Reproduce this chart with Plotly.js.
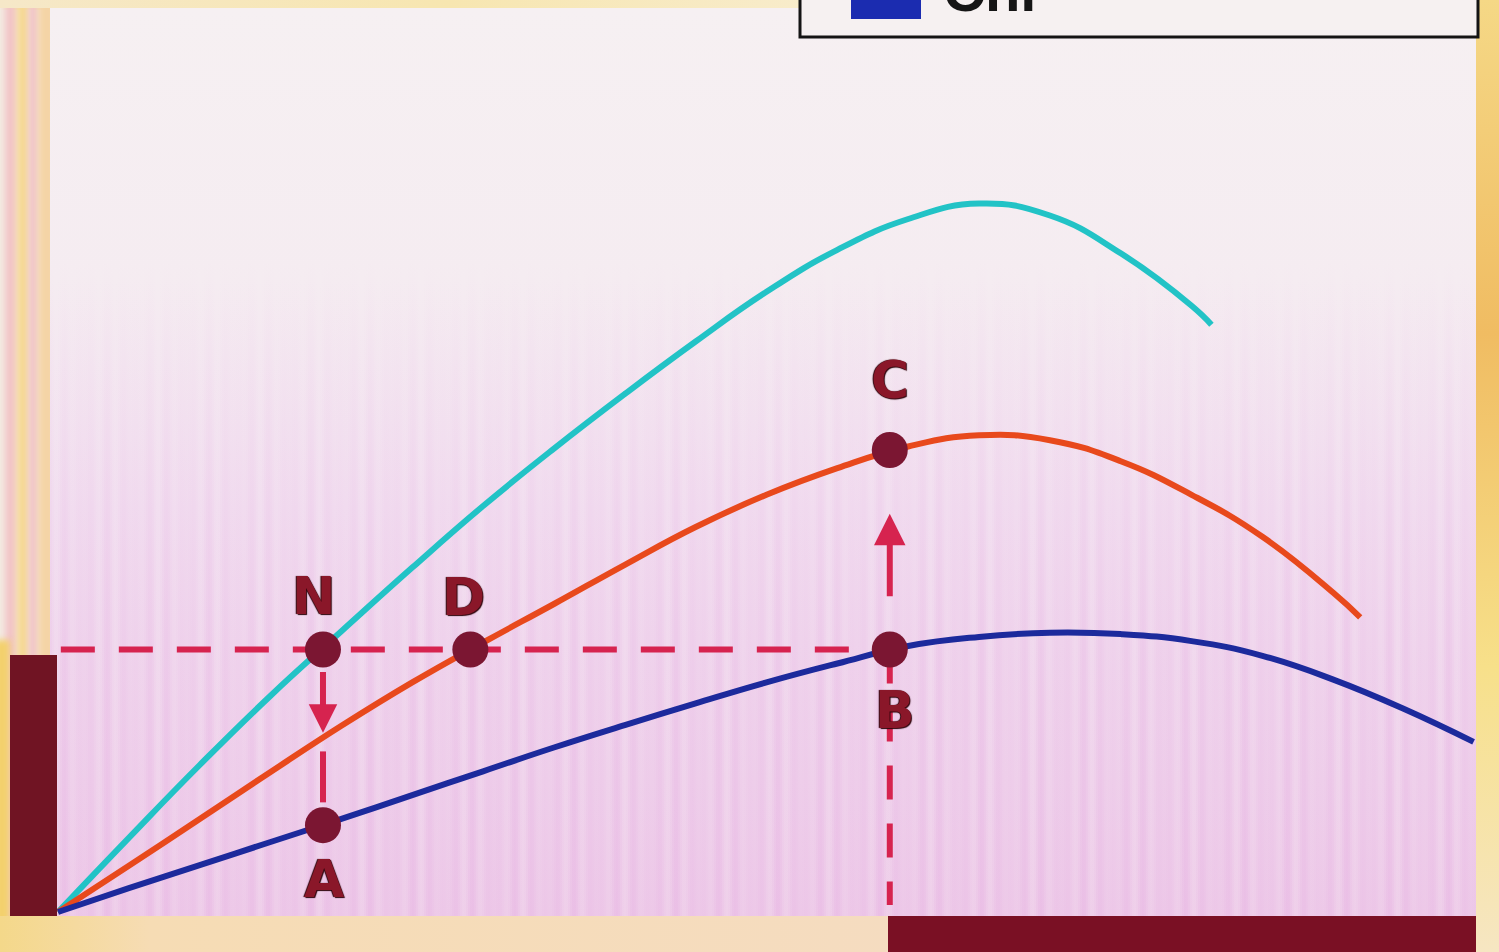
<!DOCTYPE html>
<html>
<head>
<meta charset="utf-8">
<script src="https://cdn.plot.ly/plotly-3.0.1.min.js"></script>
<style>
  html, body { margin: 0; padding: 0; background: #f4ece9; }
  #chart { width: 1499px; height: 952px; }
</style>
</head>
<body>
<div id="chart"></div>
<script>
// ---- curves: light intensity (x) against rate (y) ----
const cyanX   = [0, 5, 10, 15, 20, 25, 30, 35, 40, 45, 50, 55, 60, 65, 70, 75, 80, 81.4];
const cyanY   = [0, 10.6, 21.0, 30.9, 40.1, 49.2, 58.0, 66.2, 74.0, 81.5, 88.6, 94.6, 99.0, 101.2, 99.5, 94.1, 86.6, 83.9];

const orangeX = [0, 5, 10, 15, 20, 25, 30, 35, 40, 45, 50, 55, 60, 65, 70, 75, 80, 85, 90, 91.9];
const orangeY = [0, 6.6, 13.3, 20.0, 26.6, 32.8, 38.5, 44.0, 49.6, 55.0, 59.6, 63.4, 66.5, 68.1, 67.4, 64.4, 59.6, 53.6, 45.6, 42.1];

const blueX   = [0, 5, 10, 15, 20, 25, 30, 35, 40, 45, 50, 55, 60, 65, 70, 75, 80, 85, 90, 95, 99.9];
const blueY   = [0, 3.4, 6.7, 10.0, 13.3, 16.7, 20.1, 23.5, 26.7, 29.8, 32.8, 35.5, 38.0, 39.3, 39.9, 39.7, 38.7, 36.6, 33.2, 29.0, 24.3];

// ---- marked points ----
const pointLabels = ['N', 'D', 'B', 'C', 'A'];
const pointX      = [18.7, 29.1, 58.7, 58.7, 18.7];
const pointY      = [37.5, 37.5, 37.5, 66.0, 12.4];

const legendLabel = 'Chl';

// ---- figure geometry (pixels) ----
const W = 1499, H = 952;
const fx = px => px / W;
const fy = py => 1 - py / H;
const P = {};
pointLabels.forEach((k, i) => { P[k] = { x: pointX[i], y: pointY[i] }; });

// textured backdrop painted once onto a canvas
function backdrop() {
  const c = document.createElement('canvas');
  c.width = W; c.height = H;
  const g = c.getContext('2d');
  g.fillStyle = '#f5ece6';
  g.fillRect(0, 0, W, H);

  // top rim
  const tg = g.createLinearGradient(0, 0, W, 0);
  tg.addColorStop(0, '#f6e8c8'); tg.addColorStop(0.3, '#f7e6b0');
  tg.addColorStop(0.55, '#f8eccc'); tg.addColorStop(1, '#f6ecd8');
  g.fillStyle = tg; g.fillRect(0, 0, W, 10);

  // main panel
  const lg = g.createLinearGradient(0, 8, 0, 916);
  lg.addColorStop(0, '#f6f0f2');
  lg.addColorStop(0.3, '#f5ecf1');
  lg.addColorStop(0.55, '#f2dff0');
  lg.addColorStop(1, '#efd0ea');
  g.fillStyle = lg;
  g.fillRect(50, 8, 1426, 908);

  // vertical pink streaks, stronger toward the bottom
  for (let x = 50; x < 1476; x += 2) {
    const a = 0.5 + 0.5 * Math.sin(x * 0.37) * Math.sin(x * 0.061 + 1.3);
    const sg = g.createLinearGradient(0, 260, 0, 916);
    sg.addColorStop(0, 'rgba(226,160,222,0)');
    sg.addColorStop(0.6, 'rgba(226,160,222,' + (0.28 * a).toFixed(3) + ')');
    sg.addColorStop(1, 'rgba(226,160,222,' + (0.36 * a).toFixed(3) + ')');
    g.fillStyle = sg;
    g.fillRect(x, 260, 2, 656);
  }

  // left rim: soft pink and yellow bands
  g.save();
  g.beginPath(); g.rect(0, 8, 50, H - 8); g.clip();
  g.filter = 'blur(3px)';
  const bands = [[-6, 5, '#f4ebe2'], [5, 17, '#f1c4c6'], [17, 29, '#f6d892'], [29, 38, '#f0c2c6'], [38, 56, '#f4d4a6']];
  bands.forEach(b => { g.fillStyle = b[2]; g.fillRect(b[0], 0, b[1] - b[0], H + 10); });
  g.fillStyle = '#f3d06c'; g.fillRect(-6, 640, 16, H);
  g.restore();

  // right rim
  const rg = g.createLinearGradient(0, 0, 0, H);
  rg.addColorStop(0, '#f5d886'); rg.addColorStop(0.35, '#f0bc62');
  rg.addColorStop(0.7, '#f7e08a'); rg.addColorStop(1, '#f6e6c2');
  g.fillStyle = rg; g.fillRect(1476, 0, W - 1476, H);

  // bottom rim
  const bg = g.createLinearGradient(0, 0, W, 0);
  bg.addColorStop(0, '#f4d88a'); bg.addColorStop(0.1, '#f6dcb4'); bg.addColorStop(0.6, '#f5dcc0');
  g.fillStyle = bg; g.fillRect(0, 916, 890, H - 916);
  return c.toDataURL('image/png');
}

const lineW = 6;
const curveLine = color => ({ color: color, width: lineW, shape: 'spline', smoothing: 1.3 });
const traces = [
  { x: cyanX, y: cyanY, mode: 'lines', line: curveLine('#22c3c6'), hoverinfo: 'skip' },
  { x: orangeX, y: orangeY, mode: 'lines', line: curveLine('#e8491c'), hoverinfo: 'skip' },
  { x: blueX, y: blueY, mode: 'lines', line: curveLine('#1c2a9c'), hoverinfo: 'skip' },
  { x: pointX, y: pointY, mode: 'markers', marker: { color: '#7b1632', size: 36 }, hoverinfo: 'skip' }
];

const dashCol = '#d6234f';
const dashPat = '34px,24px';
const lerp = (a, b, t) => a + (b - a) * t;

const shapes = [
  // level line through N, D and B
  { type: 'line', xref: 'x', yref: 'y', x0: 0.2, x1: P.B.x, y0: P.B.y, y1: P.B.y,
    line: { color: dashCol, width: 6, dash: dashPat }, layer: 'below' },
  // drop from B to the axis
  { type: 'line', xref: 'x', yref: 'y', x0: P.B.x, x1: P.B.x, y0: P.B.y, y1: 1,
    line: { color: dashCol, width: 6, dash: dashPat }, layer: 'below' },
  // tail segment of the N to A drop
  { type: 'line', xref: 'x', yref: 'y', x0: P.N.x, x1: P.N.x,
    y0: lerp(P.N.y, P.A.y, 0.58), y1: lerp(P.N.y, P.A.y, 0.87),
    line: { color: dashCol, width: 6 }, layer: 'below' },
  // dark blocks on the axes
  { type: 'rect', xref: 'paper', yref: 'paper', x0: fx(10), x1: fx(57), y0: fy(916), y1: fy(655),
    fillcolor: '#701423', line: { width: 0 }, layer: 'above' },
  { type: 'rect', xref: 'paper', yref: 'paper', x0: fx(888), x1: fx(1476), y0: fy(H + 2), y1: fy(916),
    fillcolor: '#7a1024', line: { width: 0 }, layer: 'above' },
  // legend frame and swatch
  { type: 'rect', xref: 'paper', yref: 'paper', x0: fx(800), x1: fx(1478), y0: fy(37), y1: fy(-10),
    fillcolor: '#f6f1f1', line: { color: '#141414', width: 3 }, layer: 'above' },
  { type: 'rect', xref: 'paper', yref: 'paper', x0: fx(851), x1: fx(921), y0: fy(19), y1: fy(-10),
    fillcolor: '#1b2cb0', line: { width: 0 }, layer: 'above' }
];

const labelFont = {
  family: 'DejaVu Sans, Liberation Sans, Arial, sans-serif', size: 52, color: '#8a1729', weight: 'bold',
  shadow: '1px 1px 1px #2e040b, -1px 0px 1px #2e040b'
};
const labelShift = { N: [-9, 54], D: [-7, 53], C: [0, 70], B: [5, -60], A: [1, -54] };

const annotations = pointLabels.map(k => ({
  x: P[k].x, y: P[k].y, xref: 'x', yref: 'y', text: k, showarrow: false,
  xshift: labelShift[k][0], yshift: labelShift[k][1], font: labelFont
}));

// arrows: N down toward A, B up toward C
annotations.push({
  x: P.N.x, y: lerp(P.N.y, P.A.y, 0.474), ax: P.N.x, ay: lerp(P.N.y, P.A.y, 0.12),
  xref: 'x', yref: 'y', axref: 'x', ayref: 'y', text: '', showarrow: true,
  arrowhead: 2, arrowsize: 0.95, arrowwidth: 6, arrowcolor: dashCol
});
annotations.push({
  x: P.B.x, y: lerp(P.B.y, P.C.y, 0.68), ax: P.B.x, ay: lerp(P.B.y, P.C.y, 0.26),
  xref: 'x', yref: 'y', axref: 'x', ayref: 'y', text: '', showarrow: true,
  arrowhead: 2, arrowsize: 1.05, arrowwidth: 6, arrowcolor: dashCol
});

// legend caption
annotations.push({
  x: fx(941), y: fy(-10), xref: 'paper', yref: 'paper', xanchor: 'left', yanchor: 'middle',
  text: legendLabel, showarrow: false,
  font: { family: 'Liberation Sans, Arial, sans-serif', size: 58, color: '#151515', weight: 'bold' }
});

const layout = {
  width: W, height: H,
  margin: { l: 0, r: 0, t: 0, b: 0 },
  paper_bgcolor: '#f5ece6',
  plot_bgcolor: 'rgba(0,0,0,0)',
  showlegend: false,
  xaxis: { range: [-58 / 14.17, (W - 58) / 14.17], visible: false, fixedrange: true },
  yaxis: { range: [(912 - H) / 7, 912 / 7], visible: false, fixedrange: true },
  images: [{ source: backdrop(), xref: 'paper', yref: 'paper', x: 0, y: 1, sizex: 1, sizey: 1,
             xanchor: 'left', yanchor: 'top', sizing: 'stretch', layer: 'below' }],
  shapes: shapes,
  annotations: annotations
};

Plotly.newPlot('chart', traces, layout, { staticPlot: true, displayModeBar: false });
</script>
</body>
</html>
